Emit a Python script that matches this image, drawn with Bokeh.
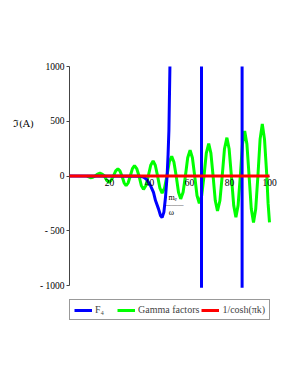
from bokeh.plotting import figure
from bokeh.models import Range1d, Legend, LegendItem, Label, FixedTicker
from bokeh.embed import file_html
from bokeh.resources import INLINE

nan = float("nan")

# ---- data ----
k_gamma = [8.8, 9.6, 10.5, 11.7, 12.85, 14.0, 15.2, 16.3, 17.45, 18.6, 19.7,
           20.8, 21.95, 23.1, 24.2, 25.2, 26.25, 27.3, 28.3, 29.35, 30.4, 31.45,
           32.5, 33.6, 34.75, 35.9, 37.0, 38.2, 39.4, 40.6, 41.8, 42.9, 44.05,
           45.2, 46.3, 47.5, 48.7, 49.9, 51.1, 52.2, 53.35, 54.5, 55.6, 56.8,
           57.95, 59.1, 60.3, 61.45, 62.6, 63.75, 64.9, 66.1, 67.25, 68.4, 69.6,
           70.7, 71.8, 72.9, 74.0, 75.2, 76.35, 77.5, 78.7, 79.8, 80.95, 82.1,
           83.2, 84.3, 85.4, 86.5, 87.6, 88.7, 89.8, 90.9, 92.0, 93.1, 94.2,
           95.3, 96.4, 97.5, 98.6, 99.3, 100.0]
gamma_vals = [0, -8, -15, -11, 0, 18, 26, 18, 0, -40, -57,
              -40, 0, 47, 66, 47, 0, -62, -88, -62, 0, 68,
              96, 68, 0, -86, -122, -86, 0, 98, 138, 98, 0,
              -111, -157, -111, 0, 128, 180, 128, 0, -148, -209, -148,
              0, 167, 235, 167, 0, -178, -250, -178, 0, 209, 295,
              209, 0, -226, -318, -226, 0, 249, 350, 249, 0, -268,
              -377, -268, 0, 293, 412, 293, 0, -302, -425, -302, 0,
              337, 475, 337, 20, -250, -423]

# F4 runs off the visible +-1000 window; NaN marks where it leaves the view
k_f4 = [0, 35, 37, 38.5, 40.5, 42, 43, 44.5, 45.5, 46.3, 47.2, 48, 48.8,
        49.3, 49.7, 50.3, 51, 66.0, 66.0, nan, 86.3, 86.3, 100]
f4_vals = [0, -2, -10, -30, -87, -150, -224, -300, -361, -380, -330, -194, 0,
           200, 416, 1100, 3000, 3000, -1020, nan, -1020, 3000, 3000]

k_cosh = [0, 100]
cosh_vals = [0, 0]

x_ticks = [20, 40, 60, 80, 100]
y_ticks = [-1000, -500, 0, 500, 1000]
y_tick_labels = {-1000: "- 1000", -500: "- 500", 0: "0", 500: "500", 1000: "1000"}

SERIF = "Liberation Serif"

# frame: x 0..110 (2 px/unit), y -1365..1000 (room for the legend below -1000)
p = figure(frame_width=220, frame_height=259,
           min_border_left=69, min_border_right=4,
           min_border_top=66, min_border_bottom=0,
           x_range=Range1d(0, 110), y_range=Range1d(-1365, 1000),
           output_backend="svg", toolbar_location=None)
p.outline_line_color = None
p.xgrid.visible = False
p.ygrid.visible = False
p.background_fill_color = "white"

# axes
p.xaxis.fixed_location = 0
p.xaxis.bounds = (0, 100)
p.yaxis.bounds = (-1000, 1000)
p.xaxis.ticker = FixedTicker(ticks=x_ticks)
p.yaxis.ticker = FixedTicker(ticks=y_ticks)
p.yaxis.major_label_overrides = y_tick_labels
for ax in (p.xaxis[0], p.yaxis[0]):
    ax.major_label_text_font = SERIF
    ax.major_label_text_font_size = "9.5px"
    ax.major_label_text_color = "black"
    ax.axis_line_color = "#444444"
    ax.major_tick_line_color = "#444444"
    ax.major_tick_in = 0
    ax.major_tick_out = 3
    ax.minor_tick_line_color = None
p.xaxis.major_tick_out = 0
p.xaxis.major_label_standoff = 3
p.yaxis.major_label_standoff = 2

# y axis label, horizontal, raised towards the 500 level
p.yaxis.axis_label = "ℑ(A)" + "\n " * 11
p.yaxis.axis_label_orientation = "horizontal"
p.yaxis.axis_label_text_font = "DejaVu Serif"
p.yaxis.axis_label_text_font_style = "normal"
p.yaxis.axis_label_text_font_size = "10px"
p.yaxis.axis_label_text_color = "black"
p.yaxis.axis_label_standoff = 3

g = p.line(k_gamma, gamma_vals, line_color="#00FF00", line_width=3)
b = p.line(k_f4, f4_vals, line_color="#0000FF", line_width=3)
r = p.line(k_cosh, cosh_vals, line_color="#FF0000", line_width=3,
           level="overlay")

# small annotation near the blue dip
p.add_layout(Label(x=49.5, y=-195, text="mₑ", text_font=SERIF,
                   text_font_size="8px", text_baseline="middle",
                   text_color="black"))
p.add_layout(Label(x=48.0, y=-262, text="———", text_font=SERIF,
                   text_font_size="6px", text_baseline="middle",
                   text_color="black"))
p.add_layout(Label(x=49.6, y=-330, text="ω", text_font=SERIF,
                   text_font_size="8px", text_baseline="middle",
                   text_color="black"))

legend = Legend(items=[
    LegendItem(label="F₄", renderers=[b]),
    LegendItem(label="Gamma factors", renderers=[g]),
    LegendItem(label="1/cosh(πk)", renderers=[r]),
], orientation="horizontal", location=(0, 5),
    label_text_font=SERIF, label_text_font_size="10px",
    glyph_width=18, glyph_height=10, label_standoff=3, spacing=2,
    padding=4, margin=0, border_line_color="#333333",
    border_line_width=1, background_fill_alpha=1.0)
p.add_layout(legend, "center")

open("out.html", "w").write(file_html(p, INLINE))
